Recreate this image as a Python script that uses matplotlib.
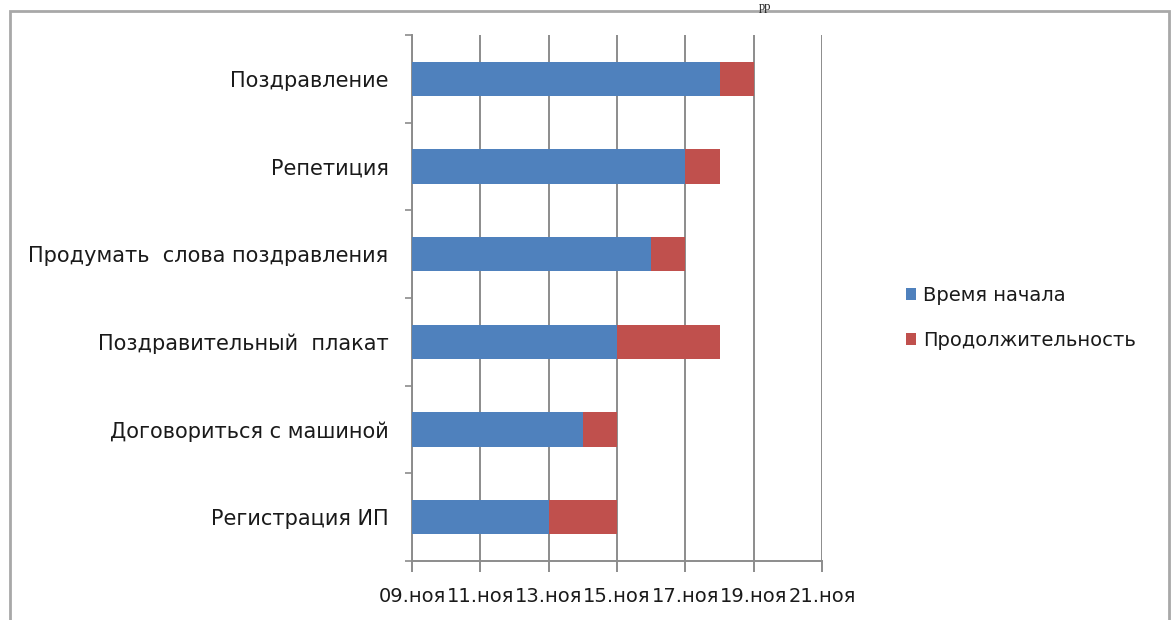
import datetime as dt
import matplotlib
matplotlib.use("Agg")
import matplotlib.pyplot as plt
import matplotlib.dates as mdates
from matplotlib.patches import Rectangle

# === Data ===
tasks = ["Регистрация ИП", "Договориться с машиной", "Поздравительный  плакат",
         "Продумать  слова поздравления", "Репетиция", "Поздравление"]
start_days = [13, 14, 15, 16, 17, 18]      # ноябрь
durations = [2, 1, 3, 1, 1, 1]             # дней
series_names = ["Время начала", "Продолжительность"]
axis_days = [9, 11, 13, 15, 17, 19, 21]
year, month = 2013, 11

blue = "#4F81BD"
red = "#C0504D"
grid_c = "#8c8c8c"
text_c = "#1a1a1a"

starts = [mdates.date2num(dt.date(year, month, d)) for d in start_days]
ticks = [mdates.date2num(dt.date(year, month, d)) for d in axis_days]
tick_labels = [f"{d:02d}.ноя" for d in axis_days]
x0 = ticks[0]

plt.rcParams["font.family"] = ["DejaVu Sans"]

fig = plt.figure(figsize=(11.74, 6.2), dpi=100)
ax = fig.add_axes([412 / 1174, 1 - 561 / 620, (822 - 412) / 1174, (561 - 35) / 620])

ypos = list(range(len(tasks)))
ax.barh(ypos, [s - x0 for s in starts], left=x0, height=0.39,
        color=blue, label=series_names[0], zorder=3)
ax.barh(ypos, durations, left=starts, height=0.39,
        color=red, label=series_names[1], zorder=3)

ax.set_xlim(ticks[0], ticks[-1])
ax.set_ylim(-0.5, len(tasks) - 0.5)
ax.set_xticks(ticks)
ax.set_xticklabels(tick_labels, fontsize=14, color=text_c)
ax.set_yticks(ypos)
ax.set_yticklabels(tasks, fontsize=15, color=text_c)
ax.set_yticks([i - 0.5 for i in range(len(tasks) + 1)], minor=True)

ax.tick_params(axis="y", which="major", length=0, pad=17)
ax.tick_params(axis="y", which="minor", length=5, width=1.2, color=grid_c)
ax.tick_params(axis="x", length=8, width=1.4, color=grid_c, pad=11)

ax.grid(axis="x", color=grid_c, linewidth=1.4, zorder=0)
for side in ["top", "right"]:
    ax.spines[side].set_visible(False)
for side in ["left", "bottom"]:
    ax.spines[side].set_color(grid_c)
    ax.spines[side].set_linewidth(1.4)

leg = ax.legend(loc="center left", bbox_to_anchor=(888 / 1174, 1 - 318 / 620), bbox_transform=fig.transFigure,
                frameon=False, fontsize=14, handlelength=0.55, handleheight=0.55,
                handletextpad=0.35, labelspacing=1.35)
for t in leg.get_texts():
    t.set_color(text_c)

# Excel chart frame
fig.patches.append(Rectangle((10 / 1174, -0.1), (1169 - 10) / 1174, 1.1 - 11 / 620,
                             transform=fig.transFigure, fill=False,
                             edgecolor="#a8a8a8", linewidth=2))
# fragment of document text at the top
fig.text(765 / 1174, 1 - 1 / 620, "рр", family="Liberation Serif", fontsize=9,
         ha="center", va="top", color="#222222")

fig.savefig("out.png", dpi=100, facecolor="white")
plt.close(fig)
